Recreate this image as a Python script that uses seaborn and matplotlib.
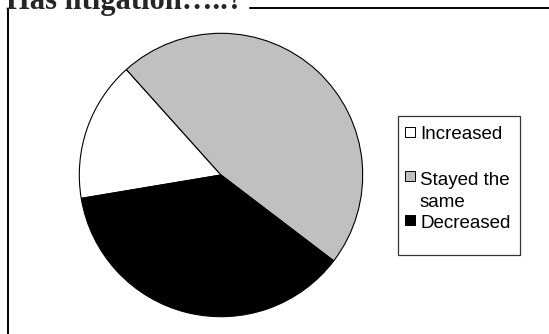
import matplotlib
matplotlib.use("Agg")
import matplotlib.pyplot as plt
from matplotlib.patches import Rectangle
from matplotlib.lines import Line2D
import seaborn as sns

# Survey answers: share of respondents per answer (%)
categories = ["Increased", "Stayed the same", "Decreased"]
shares = [16, 47, 37]
legend_labels = ["Increased", "Stayed the", "same", "Decreased"]
title = "Has litigation\u2026..?"

sns.set_style("white")
plt.rcParams["font.family"] = ["Liberation Sans", "DejaVu Sans"]

W, H = 549, 334
fig = plt.figure(figsize=(W / 100, H / 100), dpi=100)
fig.patch.set_facecolor("white")


def fx(px):
    return px / W


def fy(py):
    return 1 - py / H


colors = ["#FFFFFF", "#C0C0C0", "#000000"]

# Pie
cx, cy, r = 221, 175, 141.7
ax = fig.add_axes([fx(cx - r), fy(cy + r), 2 * r / W, 2 * r / H])
ax.pie(shares, colors=colors, startangle=189.5, counterclock=False,
       wedgeprops=dict(edgecolor="black", linewidth=0.8))
ax.set_xlim(-1.0, 1.0)
ax.set_ylim(-1.0, 1.0)
ax.set_aspect("equal")
ax.axis("off")

# Chart frame (top and left edges)
fig.add_artist(Line2D([fx(250), fx(549)], [fy(8), fy(8)], color="black",
                      linewidth=1.4, transform=fig.transFigure))
fig.add_artist(Line2D([fx(8), fx(8)], [fy(9), fy(334)], color="black",
                      linewidth=1.4, transform=fig.transFigure))

# Title
fig.text(fx(6), fy(9), title, fontsize=22, fontweight="bold",
         family=["Liberation Serif", "DejaVu Serif"], va="baseline", ha="left")

# Legend
fig.add_artist(Rectangle((fx(397.5), fy(254.5)), (519.5 - 397.5) / W,
                         (254.5 - 116) / H, facecolor="white",
                         edgecolor="#333333", linewidth=0.9,
                         transform=fig.transFigure))
marker_tops = [127, 171, None, 215]
baselines = [139, 185, 207, 228]
swatch = {0: colors[0], 1: colors[1], 3: colors[2]}
for i, (lab, base) in enumerate(zip(legend_labels, baselines)):
    if i in swatch:
        top = marker_tops[i]
        fig.add_artist(Rectangle((fx(405), fy(top + 10)), 10 / W, 10 / H,
                                 facecolor=swatch[i], edgecolor="black",
                                 linewidth=0.7, transform=fig.transFigure))
    fig.text(fx(420), fy(base), lab, fontsize=13.5, va="baseline",
             ha="left", color="black")

fig.savefig("out.png", dpi=100, facecolor="white")
